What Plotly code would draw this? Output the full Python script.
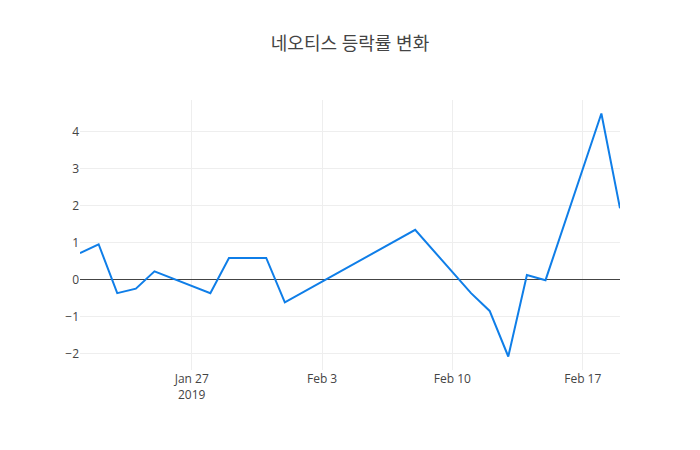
import plotly.graph_objects as go

dates = ["2019-01-21", "2019-01-22", "2019-01-23", "2019-01-24", "2019-01-25",
         "2019-01-28", "2019-01-29", "2019-01-30", "2019-01-31", "2019-02-01",
         "2019-02-08", "2019-02-11", "2019-02-12", "2019-02-13", "2019-02-14",
         "2019-02-15", "2019-02-18", "2019-02-19"]
change = [0.72, 0.96, -0.36, -0.24, 0.23,
          -0.36, 0.59, 0.59, 0.59, -0.61,
          1.35, -0.36, -0.84, -2.07, 0.13,
          -0.01, 4.49, 1.93]

fig = go.Figure(go.Scatter(x=dates, y=change, mode="lines",
                           line=dict(color="#0f7ee8", width=2)))
fig.update_layout(
    template="none",
    width=700, height=450,
    title=dict(text="네오티스 등락률 변화", x=0.5, xanchor="center",
               font=dict(size=18, color="#444")),
    font=dict(family="Open Sans, Noto Sans CJK KR", color="#444", size=12),
    margin=dict(l=80, r=80, t=100, b=80),
    xaxis=dict(gridcolor="#eee", showline=False, zeroline=False),
    yaxis=dict(gridcolor="#eee", zeroline=True, zerolinecolor="#444",
               zerolinewidth=1, showline=False),
    plot_bgcolor="white", paper_bgcolor="white",
    showlegend=False,
)
fig.write_html("out.html")
